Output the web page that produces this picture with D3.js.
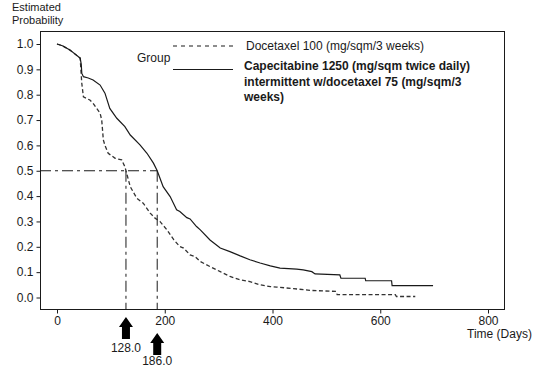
<!DOCTYPE html>
<html><head><meta charset="utf-8">
<script src="https://cdn.jsdelivr.net/npm/d3@7"></script>
<style>
html,body{margin:0;padding:0;background:#fff;}
svg{display:block;font-family:"Liberation Sans",Arial,Helvetica,sans-serif;}
</style></head>
<body><svg id="c" width="545" height="369"></svg>
<script>
// ---- data ----
const xTicks = [0, 200, 400, 600, 800];
const yTicks = [0.0, 0.1, 0.2, 0.3, 0.4, 0.5, 0.6, 0.7, 0.8, 0.9, 1.0];
const seriesNames = ["Docetaxel 100 (mg/sqm/3 weeks)",
  "Capecitabine 1250 (mg/sqm twice daily) intermittent w/docetaxel 75 (mg/sqm/3 weeks)"];
const medians = [128.0, 186.0];
const docetaxel = [[0,1.0],[10,0.993],[24,0.976],[35,0.958],[43,0.944],[44,0.91],[46,0.845],[49,0.792],[55,0.785],[61,0.779],[67,0.766],[80,0.727],[83,0.7],[86,0.622],[89,0.6],[95,0.569],[108,0.549],[120,0.543],[126,0.516],[128,0.5],[136,0.437],[148,0.392],[160,0.372],[173,0.333],[182,0.313],[191,0.3],[204,0.267],[217,0.227],[228,0.201],[235,0.195],[247,0.168],[256,0.162],[266,0.142],[284,0.122],[303,0.102],[321,0.083],[340,0.07],[358,0.063],[377,0.05],[396,0.043],[408,0.041],[439,0.035],[470,0.028],[518,0.024],[520,0.011],[628,0.011],[630,0.004],[665,0.004]];
const combo = [[0,1.0],[10,0.993],[24,0.976],[35,0.958],[43,0.944],[45,0.92],[46,0.885],[49,0.871],[58,0.866],[67,0.858],[80,0.838],[89,0.806],[98,0.746],[111,0.707],[126,0.674],[136,0.641],[154,0.602],[167,0.569],[179,0.53],[186,0.5],[197,0.437],[210,0.398],[222,0.346],[228,0.339],[241,0.315],[247,0.31],[259,0.28],[266,0.267],[284,0.227],[303,0.195],[321,0.181],[340,0.164],[358,0.149],[377,0.136],[396,0.125],[414,0.116],[445,0.112],[457,0.109],[473,0.102],[479,0.093],[525,0.089],[527,0.076],[572,0.076],[573,0.066],[621,0.066],[622,0.047],[698,0.047]];

// ---- layout ----
const svg = d3.select("#c");
const frame = {l:40, r:504, t:31, b:309};
const x = d3.scaleLinear().domain([0,800]).range([57,488]);
const y = d3.scaleLinear().domain([0,1]).range([297.5,44]);
const ink = "#1a1a1a";

// frame
svg.append("rect").attr("x",frame.l+0.5).attr("y",frame.t+0.5)
  .attr("width",frame.r-frame.l).attr("height",frame.b-frame.t)
  .attr("fill","none").attr("stroke",ink).attr("stroke-width",1);

// axes
const xAxis = d3.axisBottom(x).tickValues(xTicks).tickSize(4).tickPadding(3).tickFormat(d3.format("d"));
const gx = svg.append("g").attr("transform",`translate(0,${frame.b+0.5})`).call(xAxis);
gx.select(".domain").remove();
const yAxis = d3.axisLeft(y).tickValues(yTicks).tickSize(4).tickPadding(3).tickFormat(d3.format(".1f"));
const gy = svg.append("g").attr("transform",`translate(${frame.l+0.5},0)`).call(yAxis);
gy.select(".domain").remove();
svg.selectAll(".tick line").attr("stroke",ink);
svg.selectAll(".tick text").attr("fill",ink).style("font-size","12px").style("font-family","'Liberation Sans',Arial,sans-serif");

// titles
const title = svg.append("text").attr("x",12).attr("fill",ink).style("font-size","11px");
title.append("tspan").attr("x",12).attr("y",10.5).text("Estimated");
title.append("tspan").attr("x",12).attr("y",24).text("Probability");
svg.append("text").attr("x",467).attr("y",338).attr("fill",ink).style("font-size","12px").text("Time (Days)");

// median reference lines
const refDash = "11,4,3,4";
svg.append("line").attr("x1",frame.l).attr("x2",x(medians[1])).attr("y1",y(0.5)).attr("y2",y(0.5))
  .attr("stroke",ink).attr("stroke-width",1).attr("stroke-dasharray",refDash);
medians.forEach(m=>{
  svg.append("line").attr("x1",x(m)).attr("x2",x(m)).attr("y1",y(0.5)).attr("y2",frame.b)
    .attr("stroke",ink).attr("stroke-width",1).attr("stroke-dasharray",refDash);
});

// curves
const line = d3.line().x(d=>x(d[0])).y(d=>y(d[1]));
svg.append("path").datum(docetaxel).attr("d",line).attr("fill","none")
  .attr("stroke","#333").attr("stroke-width",1.3).attr("stroke-dasharray","4,2.5");
svg.append("path").datum(combo).attr("d",line).attr("fill","none")
  .attr("stroke",ink).attr("stroke-width",1.2);

// arrows
const arrowTops = [317, 333];
const labelY = [352, 365];
medians.forEach((m,i)=>{
  const cx = x(m), t = arrowTops[i];
  const pts = [[cx,t],[cx+7,t+10],[cx+4,t+10],[cx+4,t+22],[cx-4,t+22],[cx-4,t+10],[cx-7,t+10]];
  svg.append("polygon").attr("points",pts.map(p=>p.join(",")).join(" ")).attr("fill","#000");
  svg.append("text").attr("x",cx).attr("y",labelY[i]).attr("text-anchor","middle")
    .attr("fill",ink).style("font-size","12px").text(m.toFixed(1));
});

// legend
svg.append("text").attr("x",137).attr("y",62).attr("fill",ink).style("font-size","12px").text("Group");
svg.append("line").attr("x1",173).attr("x2",233).attr("y1",46).attr("y2",46)
  .attr("stroke",ink).attr("stroke-width",1.2).attr("stroke-dasharray","4,4");
svg.append("line").attr("x1",173).attr("x2",233).attr("y1",69.5).attr("y2",69.5)
  .attr("stroke",ink).attr("stroke-width",1.2);
svg.append("text").attr("x",246).attr("y",50).attr("fill",ink).style("font-size","12px").text(seriesNames[0]);
const lg2 = svg.append("text").attr("fill",ink).style("font-size","12px").style("font-weight","bold");
["Capecitabine 1250 (mg/sqm twice daily)","intermittent w/docetaxel 75 (mg/sqm/3","weeks)"].forEach((s,i)=>{
  lg2.append("tspan").attr("x",244).attr("y",70+i*15.5).text(s);
});
</script></body></html>
